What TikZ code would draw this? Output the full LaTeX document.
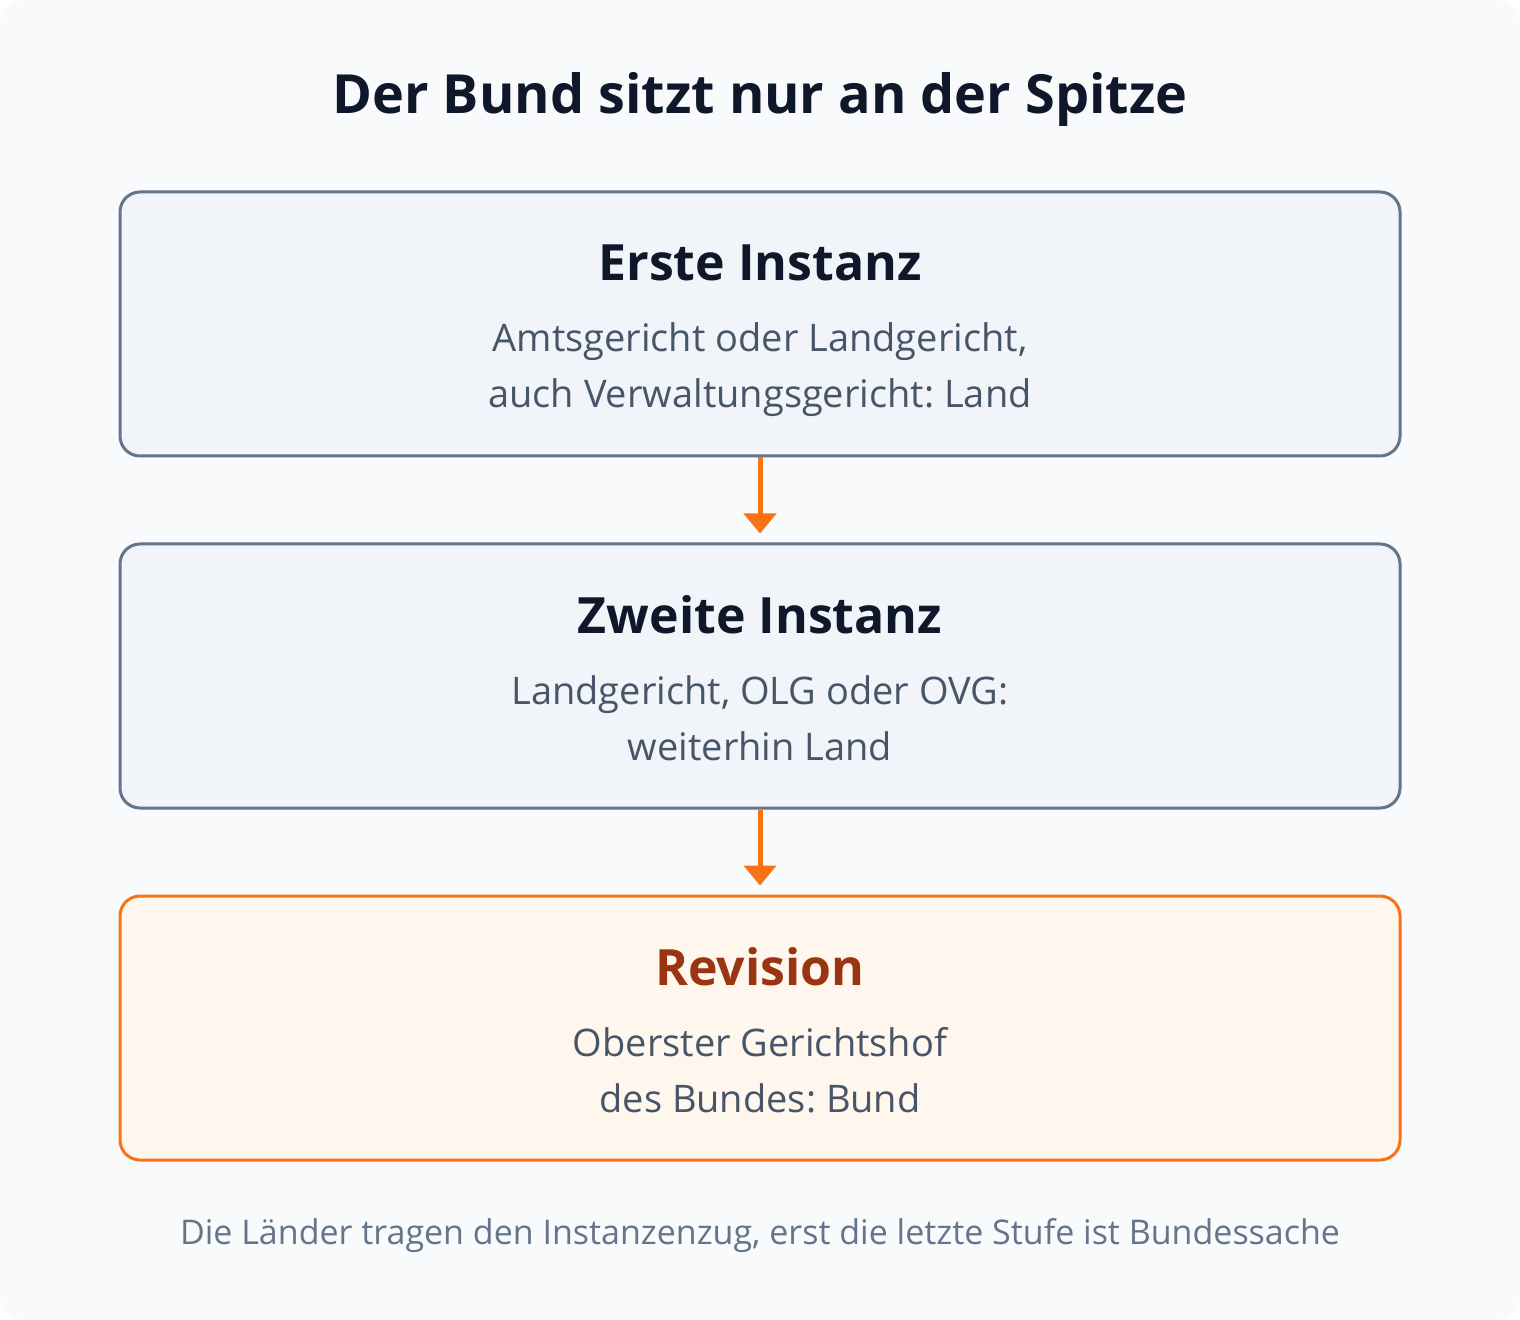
\documentclass[tikz,border=0pt]{standalone}
\usepackage{fontspec}
\setmainfont{Open Sans}
\frenchspacing
\usetikzlibrary{arrows.meta}

\definecolor{pagebg}{HTML}{F8FAFC}
\definecolor{stagefill}{HTML}{F1F5F9}
\definecolor{stageline}{HTML}{64748B}
\definecolor{inkdark}{HTML}{0F172A}
\definecolor{inksub}{HTML}{475569}
\definecolor{orangeline}{HTML}{F97316}
\definecolor{orangefill}{HTML}{FFF7ED}
\definecolor{orangeink}{HTML}{9A3412}

\tikzset{
  stage/.style={draw=stageline, fill=stagefill, line width=1.5pt, rounded corners=10pt,
    minimum width=640pt, minimum height=132pt, inner sep=0pt},
  toplevel/.style={stage, draw=orangeline, fill=orangefill},
  stagehead/.style={anchor=base, inner sep=0pt, text=inkdark, font=\fontsize{25}{28}\selectfont\bfseries},
  stagetext/.style={anchor=base, inner sep=0pt, text=inksub, align=center, font=\fontsize{19}{28}\selectfont},
  flow/.style={draw=orangeline, line width=2.5pt, -{Triangle[width=16pt, length=10pt]}, shorten >=4.5pt}
}

\begin{document}
\begin{tikzpicture}[x=0.5pt, y=-0.5pt]
  \useasboundingbox (0,0) rectangle (1520,1320);
  \fill[white] (0,0) rectangle (1520,1320);
  \fill[pagebg, rounded corners=12pt] (0,0) rectangle (1520,1320);

  % Titel
  \node[anchor=base, inner sep=0pt, text=inkdark, font=\fontsize{27}{30}\selectfont\bfseries] (title) at (760,114) {Der Bund sitzt nur an der Spitze};

  % Instanzen
  \node[stage] (first) at (760,324) {};
  \node[stagehead] (firsthead) at (760,281) {Erste Instanz};
  \node[stagetext] (firsttext) at (760,408) {Amtsgericht oder Landgericht,\\auch Verwaltungsgericht: Land};

  \node[stage] (second) at (760,676) {};
  \node[stagehead] (secondhead) at (760,633) {Zweite Instanz};
  \node[stagetext] (secondtext) at (760,760) {Landgericht, OLG oder OVG:\\weiterhin Land};

  \node[toplevel] (revision) at (760,1028) {};
  \node[stagehead, text=orangeink] (revisionhead) at (760,985) {Revision};
  \node[stagetext] (revisiontext) at (760,1112) {Oberster Gerichtshof\\des Bundes: Bund};

  \draw[flow] (first.south) -- (second.north);
  \draw[flow] (second.south) -- (revision.north);

  \node[anchor=base, inner sep=0pt, text=stageline, font=\fontsize{17}{20}\selectfont] (note) at (760,1244) {Die Länder tragen den Instanzenzug, erst die letzte Stufe ist Bundessache};
\end{tikzpicture}
\end{document}
